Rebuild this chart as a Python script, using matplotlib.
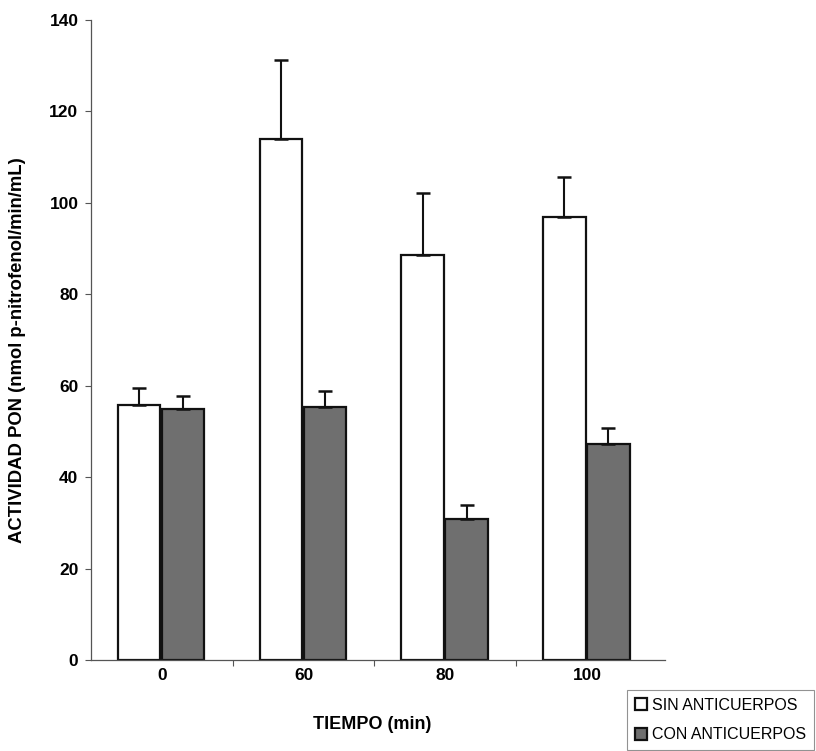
import matplotlib
matplotlib.use("Agg")
import matplotlib.pyplot as plt
import numpy as np

# Data
tiempos = ["0", "60", "80", "100"]
sin_anticuerpos = [55.8, 114.0, 88.6, 97.0]
sin_err = [3.8, 17.3, 13.6, 8.6]
con_anticuerpos = [54.8, 55.4, 30.9, 47.2]
con_err = [2.9, 3.4, 3.0, 3.6]
yticks = [0, 20, 40, 60, 80, 100, 120, 140]

plt.rcParams["font.family"] = ["Liberation Sans", "DejaVu Sans"]

fig = plt.figure(figsize=(8.16, 7.51), dpi=100)
ax = fig.add_axes([0.1115, 0.1212, 0.7035, 0.8522])

x = np.arange(len(tiempos))
w = 0.30
ax.bar(x - 0.16, sin_anticuerpos, w, color="white", edgecolor="#111111", linewidth=1.6,
       label="SIN ANTICUERPOS", zorder=2)
ax.bar(x + 0.15, con_anticuerpos, w, color="#6f6f6f", edgecolor="#111111", linewidth=1.6,
       label="CON ANTICUERPOS", zorder=2)

# upper-only error bars
ax.errorbar(x - 0.16, sin_anticuerpos, yerr=[np.zeros(4), sin_err], fmt="none",
            ecolor="#111111", elinewidth=1.5, capsize=5, capthick=1.8, zorder=3)
ax.errorbar(x + 0.15, con_anticuerpos, yerr=[np.zeros(4), con_err], fmt="none",
            ecolor="#111111", elinewidth=1.5, capsize=5, capthick=1.8, zorder=3)

ax.set_xlim(-0.5, 3.55)
ax.set_ylim(0, 140)
ax.set_yticks(yticks)
ax.set_yticklabels([str(v) for v in yticks], fontsize=12.5, fontweight="bold")
ax.set_xticks(x)
ax.set_xticklabels(tiempos, fontsize=12.5, fontweight="bold")
ax.tick_params(axis="x", length=0, pad=6)
ax.tick_params(axis="y", length=4, width=0.8, color="#555555", pad=5)
ax.set_xticks(x[:-1] + 0.5, minor=True)
ax.tick_params(axis="x", which="minor", length=4, width=0.8, color="#555555")

for s in ["top", "right"]:
    ax.spines[s].set_visible(False)
for s in ["left", "bottom"]:
    ax.spines[s].set_color("#555555")
    ax.spines[s].set_linewidth(0.9)

ax.set_xlabel("TIEMPO (min)", fontsize=13, fontweight="bold")
ax.xaxis.set_label_coords(0.49, -0.0875)
ax.set_ylabel("ACTIVIDAD PON (nmol p-nitrofenol/min/mL)", fontsize=13.3,
              fontweight="bold")
ax.yaxis.set_label_coords(-0.113, 0.484)

leg = fig.legend(loc="upper left", bbox_to_anchor=(0.758, 0.092), fontsize=11.5,
                 frameon=True, fancybox=False, handlelength=0.8, handleheight=0.8,
                 handletextpad=0.3, labelspacing=0.9, borderpad=0.5)
leg.get_frame().set_edgecolor("#777777")
leg.get_frame().set_linewidth(0.8)

fig.savefig("out.png", dpi=100)
